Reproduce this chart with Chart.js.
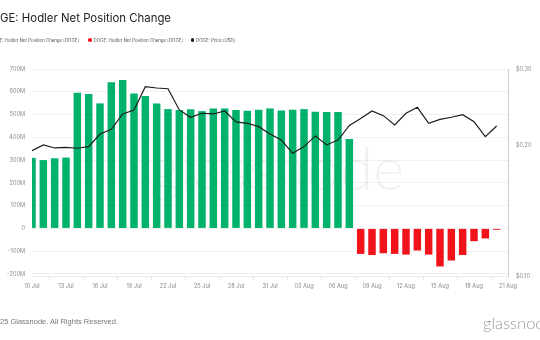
<!DOCTYPE html>
<html>
<head>
<meta charset="utf-8">
<script src="https://cdn.jsdelivr.net/npm/chart.js@4.4.1/dist/chart.umd.min.js"></script>
<style>
  html, body { margin: 0; padding: 0; background: #fff; }
  #wrap { position: relative; width: 540px; height: 340px; overflow: hidden; font-family: Inter, "Noto Sans", sans-serif; }
  #chart { position: absolute; left: 0; top: 0; }
  .cut { position: absolute; right: 100%; top: 0; white-space: nowrap; }
  #title { position: absolute; left: 0; top: 11px; font-size: 11.4px; color: #222; white-space: nowrap; }
  .lg { position: absolute; top: 38px; font-size: 4.4px; color: #555; white-space: nowrap; line-height: 6px; }
  .dot { display: inline-block; width: 3.6px; height: 3.6px; border-radius: 50%; margin-right: 2px; vertical-align: 0px; }
  #footer { position: absolute; left: 0; top: 317px; font-family: "Liberation Sans", Arial, sans-serif; font-size: 7.5px; color: #777; white-space: nowrap; }
  #logo { position: absolute; left: 483px; top: 313px; font-family: Lato, Inter, sans-serif; font-weight: 300; font-size: 16.5px; color: #9a9a9a; white-space: nowrap; }
</style>
</head>
<body>
<div id="wrap">
  <canvas id="chart" width="540" height="340"></canvas>
  <div id="title"><span class="cut">DO</span>GE: Hodler Net Position Change</div>
  <div id="legend"></div>
  <div id="footer"><span class="cut">© 20</span>25 Glassnode. All Rights Reserved.</div>
  <div id="logo">glassnode</div>
</div>
<script>
// Daily categories, 10 Jul .. 21 Aug
const dates = [
  '10 Jul','11 Jul','12 Jul','13 Jul','14 Jul','15 Jul','16 Jul','17 Jul','18 Jul','19 Jul','20 Jul',
  '21 Jul','22 Jul','23 Jul','24 Jul','25 Jul','26 Jul','27 Jul','28 Jul','29 Jul','30 Jul','31 Jul',
  '01 Aug','02 Aug','03 Aug','04 Aug','05 Aug','06 Aug','07 Aug','08 Aug','09 Aug','10 Aug','11 Aug',
  '12 Aug','13 Aug','14 Aug','15 Aug','16 Aug','17 Aug','18 Aug','19 Aug','20 Aug','21 Aug'
];

// Hodler net position change, millions of DOGE
const netChangeM = [
  310, 300, 308, 311, 596, 590, 549, 642, 652, 592, 581,
  549, 524, 520, 523, 515, 527, 526, 520, 517, 521, 527,
  518, 521, 524, 512, 511, 511, 393, -112, -117, -109, -112,
  -115, -97, -115, -167, -141, -117, -56, -44, -6, null
];

// DOGE price, USD
const priceUsd = [
  0.1944, 0.2005, 0.1973, 0.1980, 0.1970, 0.1987, 0.2125, 0.2179, 0.2363, 0.2414, 0.2731,
  0.2712, 0.2702, 0.2414, 0.2322, 0.2372, 0.2363, 0.2401, 0.2265, 0.2249, 0.2209, 0.2125,
  0.2058, 0.1918, 0.1987, 0.2103, 0.2005, 0.2058, 0.2223, 0.2307, 0.2401, 0.2342, 0.2229,
  0.2372, 0.2448, 0.2249, 0.2297, 0.2322, 0.2354, 0.2269, 0.2095, 0.2217, null
];

// Axis tick labels
const xTickLabels = ['10 Jul','13 Jul','16 Jul','19 Jul','22 Jul','25 Jul','28 Jul','31 Jul',
                     '03 Aug','06 Aug','09 Aug','12 Aug','15 Aug','18 Aug','21 Aug'];
const leftTicksM = [-200, -100, 0, 100, 200, 300, 400, 500, 600, 700];
const rightTicksUsd = [0.10, 0.20, 0.30];

const seriesNames = [
  'DOGE: Hodler Net Position Change [DOGE]',
  'DOGE: Hodler Net Position Change [DOGE]',
  'DOGE: Price [USD]'
];
const GREEN = '#00b26b';
const RED = '#f0141a';
const BLACK = '#1c1c1c';

const positive = netChangeM.map(v => (v !== null && v >= 0) ? v * 1e6 : null);
const negative = netChangeM.map(v => (v !== null && v < 0) ? v * 1e6 : null);

// Legend row (first entry runs past the left edge)
const legend = document.getElementById('legend');
const legendItems = [
  { name: seriesNames[0], color: GREEN, style: 'right:461px' },
  { name: seriesNames[1], color: RED, style: 'left:88px' },
  { name: seriesNames[2], color: BLACK, style: 'left:190.5px' }
];
legendItems.forEach(it => {
  const d = document.createElement('div');
  d.className = 'lg';
  d.setAttribute('style', it.style);
  d.innerHTML = '<span class="dot" style="background:' + it.color + '"></span>' + it.name;
  legend.appendChild(d);
});

// Faint brand watermark behind the bars
const watermark = {
  id: 'watermark',
  beforeDatasetsDraw(chart) {
    const ctx = chart.ctx;
    ctx.save();
    ctx.font = '300 60px Lato, Inter, sans-serif';
    ctx.fillStyle = 'rgba(0,0,0,0.055)';
    ctx.textAlign = 'center';
    ctx.textBaseline = 'alphabetic';
    ctx.fillText('glassnode', 277, 190);
    ctx.restore();
  }
};

const tickFont = { family: 'Inter, "Noto Sans", sans-serif', size: 5.6 };

new Chart(document.getElementById('chart'), {
  type: 'bar',
  data: {
    labels: dates,
    datasets: [
      {
        type: 'line', label: seriesNames[2], data: priceUsd, yAxisID: 'yPrice',
        borderColor: BLACK, borderWidth: 1.2, pointRadius: 0, tension: 0, order: 0, clip: 0
      },
      {
        label: seriesNames[0], data: positive, yAxisID: 'y',
        backgroundColor: GREEN, barPercentage: 0.66, categoryPercentage: 1, grouped: false, order: 1, clip: 0
      },
      {
        label: seriesNames[1], data: negative, yAxisID: 'y',
        backgroundColor: RED, barPercentage: 0.66, categoryPercentage: 1, grouped: false, order: 1, clip: 0
      }
    ]
  },
  options: {
    responsive: false,
    animation: false,
    events: [],
    layout: { padding: { top: 69, left: 0, right: 0, bottom: 48 } },
    plugins: { legend: { display: false }, title: { display: false }, tooltip: { enabled: false } },
    scales: {
      x: {
        offset: false,
        afterFit(s) { s.height = 16; },
        afterBuildTicks(s) {
          s.ticks = s.ticks.filter(t => xTickLabels.includes(dates[t.value]));
        },
        ticks: { autoSkip: false, maxRotation: 0, color: '#8a8a8a', font: tickFont, padding: 3,
                 callback(v) { return dates[v]; } },
        grid: { drawOnChartArea: false, drawTicks: true, tickLength: 4, color: '#e2e2e2' },
        border: { display: true, color: '#ececec' }
      },
      y: {
        position: 'left',
        min: -209e6, max: 700e6,
        afterFit(s) { s.width = 32; },
        afterBuildTicks(s) { s.ticks = leftTicksM.map(v => ({ value: v * 1e6 })); },
        ticks: { color: '#8a8a8a', font: tickFont, padding: 7,
                 callback(v) { return v === 0 ? '0' : Math.round(v / 1e6) + 'M'; } },
        grid: { color: '#f1f1f1', drawTicks: false },
        border: { display: false }
      },
      yPrice: {
        type: 'logarithmic',
        position: 'right',
        min: 0.1, max: 0.3,
        afterFit(s) { s.width = 32; },
        afterBuildTicks(s) { s.ticks = rightTicksUsd.map(v => ({ value: v })); },
        ticks: { color: '#8a8a8a', font: tickFont, padding: 8,
                 callback(v) { return '$' + Number(v).toFixed(2); } },
        grid: { drawOnChartArea: false, drawTicks: false },
        border: { display: true, color: '#cfcfcf' }
      }
    }
  },
  plugins: [watermark]
});
</script>
</body>
</html>
